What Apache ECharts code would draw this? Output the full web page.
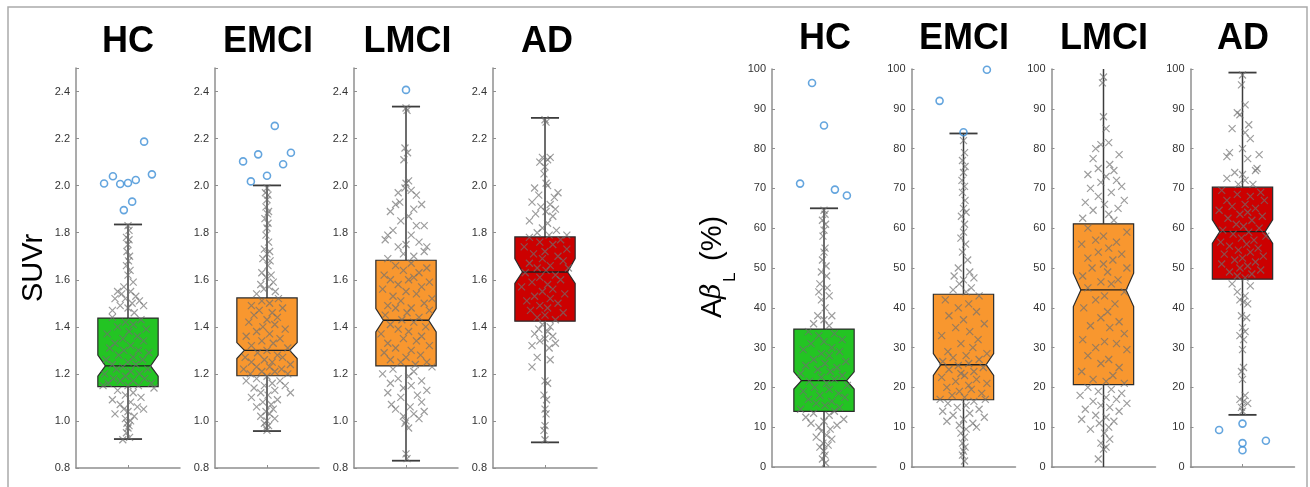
<!DOCTYPE html>
<html>
<head>
<meta charset="utf-8">
<script src="https://cdn.jsdelivr.net/npm/echarts@6/dist/echarts.min.js"></script>
<style>
  html, body { margin: 0; background: #fff; }
  #chart { width: 1310px; height: 487px; }
</style>
</head>
<body>
<div id="chart"></div>
<script>
const FONT = '"Liberation Sans", Arial, Helvetica, sans-serif';
const groups = ['HC', 'EMCI', 'LMCI', 'AD'];
const boxColors = ['#23c423', '#f8972f', '#f8972f', '#cc0000'];

// box stats: [lower whisker, Q1, notch low, median, notch high, Q3, upper whisker]
const suvrStats = [
  [0.923, 1.146, 1.190, 1.234, 1.280, 1.437, 1.835],
  [0.957, 1.192, 1.265, 1.300, 1.333, 1.523, 2.001],
  [0.831, 1.234, 1.378, 1.428, 1.478, 1.683, 2.336],
  [0.909, 1.424, 1.584, 1.633, 1.690, 1.782, 2.288]
];
const ablStats = [
  [-1, 13.96, 19.6, 21.7, 23.9, 34.65, 65.0],
  [-1, 16.9, 23.0, 25.7, 28.5, 43.4, 83.8],
  [-1, 20.7, 40.3, 44.5, 48.7, 61.1, 101],
  [13.1, 47.2, 56.2, 59.15, 62.1, 70.3, 99.1]
];

// outliers: [jitter, value]
const suvrOutliers = [
  [[-0.46, 2.009], [-0.29, 2.04], [-0.15, 2.007], [0, 2.011], [0.15, 2.024], [0.46, 2.048], [0.31, 2.187], [-0.08, 1.896], [0.08, 1.932]],
  [[-0.46, 2.103], [-0.31, 2.018], [-0.17, 2.133], [0, 2.042], [0.15, 2.254], [0.31, 2.091], [0.46, 2.14]],
  [[0, 2.407]],
  []
];
const ablOutliers = [
  [[-0.23, 96.5], [0, 85.8], [-0.46, 71.2], [0.21, 69.7], [0.44, 68.2]],
  [[-0.46, 92], [0, 84.1], [0.45, 99.8]],
  [],
  [[-0.45, 9.3], [0, 10.9], [0, 6.0], [0, 4.2], [0.45, 6.6]]
];

// individual subjects: [jitter, value]
const hcSuvr = [[0,1.83],[0.02,1.81],[-0.03,1.78],[0.02,1.77],[0,1.75],[-0.02,1.72],[0.03,1.70],[0.01,1.68],[-0.03,1.66],[0.04,1.64],[0,1.62],[0.1,1.59],[-0.08,1.57],
  [-0.2,1.55],[-0.12,1.54],[0.05,1.55],[0.15,1.53],[-0.25,1.52],[-0.05,1.52],[0.22,1.51],[0.08,1.50],[-0.15,1.49],[0.3,1.49],[0,1.48],[-0.3,1.47],[0.12,1.46],
  [-0.3,1.44],[0.25,1.43],[-0.05,1.42],[0.1,1.41],[-0.2,1.40],[0.35,1.39],[0.02,1.38],[-0.4,1.37],[0.18,1.36],[-0.1,1.35],[0.3,1.34],[-0.25,1.33],[0.05,1.32],[-0.35,1.31],[0.2,1.30],[-0.08,1.30],[0.4,1.29],[-0.18,1.28],[0.1,1.27],[-0.42,1.26],[0.28,1.26],[0,1.25],[-0.3,1.24],[0.15,1.24],[-0.1,1.23],[0.38,1.22],[-0.22,1.22],[0.05,1.21],[-0.45,1.20],[0.22,1.20],[-0.05,1.19],[0.32,1.18],[-0.28,1.18],[0.1,1.17],[-0.15,1.17],[0.45,1.16],[-0.38,1.16],[0,1.15],[0.2,1.15],[-0.48,1.15],[0.5,1.14],
  [-0.2,1.13],[0.1,1.12],[-0.05,1.11],[0.25,1.10],[-0.3,1.09],[0.05,1.08],[-0.15,1.07],[0.18,1.06],[-0.08,1.05],[0.3,1.05],[0,1.04],[-0.25,1.03],[0.12,1.02],[-0.05,1.01],[0.05,1.00],[-0.02,0.99],[0.02,0.98],[0,0.97],[-0.03,0.95],[0.03,0.93],[-0.1,0.92]];
const emciSuvr = [[0,1.99],[-0.03,1.97],[0.02,1.96],[0,1.94],[-0.02,1.91],[0.03,1.89],[0.01,1.88],[-0.04,1.86],[0.02,1.84],[0,1.82],[-0.02,1.79],[0.03,1.76],[-0.05,1.73],[0.05,1.72],[0,1.71],[-0.08,1.69],[0.06,1.68],[0.02,1.66],[-0.1,1.63],[0.08,1.62],[-0.02,1.61],[0.12,1.59],[-0.12,1.58],[0.04,1.57],[-0.06,1.56],[0.16,1.55],[-0.2,1.54],
  [0.22,1.52],[-0.1,1.51],[0.05,1.50],[-0.3,1.49],[0.3,1.48],[-0.15,1.47],[0.1,1.46],[-0.25,1.45],[0.2,1.44],[0,1.43],[-0.35,1.42],[0.15,1.41],[-0.08,1.40],[0.35,1.39],[-0.2,1.38],[0.05,1.37],[-0.4,1.36],[0.25,1.35],[-0.1,1.34],[0.12,1.33],[-0.3,1.32],[0.4,1.31],[0,1.30],[-0.18,1.29],[0.2,1.28],[-0.42,1.27],[0.3,1.27],[-0.05,1.26],[0.1,1.25],[-0.3,1.25],[0.45,1.24],[-0.2,1.23],[0.05,1.23],[-0.45,1.22],[0.28,1.22],[-0.1,1.21],[0.15,1.21],[0.4,1.20],[-0.32,1.20],[0,1.19],
  [-0.2,1.18],[0.25,1.17],[-0.4,1.17],[0.1,1.16],[-0.05,1.15],[0.35,1.15],[-0.25,1.14],[0.15,1.13],[-0.12,1.12],[0.45,1.12],[0.02,1.11],[-0.3,1.10],[0.2,1.09],[-0.08,1.08],[0.08,1.07],[-0.2,1.06],[0.12,1.05],[-0.02,1.04],[0.05,1.03],[-0.12,1.02],[0.15,1.01],[0,1.00],[-0.05,0.99],[0.03,0.98],[-0.02,0.97],[0,0.96]];
const lmciSuvr = [[0,2.33],[0.02,2.32],[-0.02,2.16],[0.03,2.14],[-0.04,2.11],[0.05,2.02],[0,2.01],[-0.02,1.99],[0.1,1.98],[-0.15,1.97],[0.2,1.96],[-0.12,1.93],[-0.2,1.92],[0.3,1.92],[0.15,1.90],[-0.3,1.89],[0.05,1.87],[-0.1,1.85],[0.35,1.83],[0.2,1.83],[-0.25,1.81],[-0.35,1.79],[0.1,1.79],[-0.4,1.77],[0.25,1.76],[0,1.75],[-0.15,1.74],[0.4,1.74],[0.35,1.72],[-0.05,1.71],[0.15,1.70],[-0.35,1.69],
  [0.1,1.67],[-0.2,1.66],[0.4,1.65],[-0.05,1.64],[0.25,1.63],[-0.42,1.62],[0.15,1.61],[-0.3,1.60],[0.05,1.60],[0.45,1.59],[-0.15,1.58],[0.3,1.57],[-0.45,1.56],[0,1.55],[0.2,1.54],[-0.25,1.53],[0.5,1.52],[-0.1,1.51],[0.35,1.50],[-0.35,1.49],[0.1,1.48],[-0.2,1.48],[0.45,1.47],[0.02,1.46],[-0.4,1.45],[0.25,1.44],[-0.08,1.43],[0.15,1.42],[-0.3,1.41],[0.38,1.40],[-0.15,1.39],[0.05,1.38],[-0.48,1.37],[0.3,1.36],[-0.05,1.35],[0.2,1.34],[-0.35,1.33],[0.45,1.32],[-0.2,1.31],[0.1,1.30],[-0.42,1.29],[0.28,1.28],[0,1.27],[-0.3,1.26],[0.4,1.25],[-0.1,1.25],[0.18,1.24],[0.5,1.23],
  [-0.25,1.22],[0.15,1.21],[-0.45,1.20],[0.05,1.19],[-0.15,1.18],[0.3,1.17],[-0.3,1.16],[0.1,1.15],[-0.05,1.14],[0.4,1.13],[-0.35,1.12],[0.22,1.11],[-0.1,1.10],[0.3,1.08],[-0.28,1.07],[0.08,1.06],[-0.2,1.05],[0.35,1.04],[0.15,1.03],[-0.05,1.02],[0.25,1.01],[0,1.00],[-0.02,0.99],[0.05,0.97],[0,0.86],[0.02,0.84]];
const adSuvr = [[0,2.28],[0.02,2.27],[-0.05,2.12],[0.05,2.11],[-0.1,2.10],[0.1,2.12],[0,2.08],[-0.02,2.05],[0.02,2.01],[0.05,2.00],[-0.2,1.99],[0.25,1.97],[-0.12,1.96],[0.18,1.95],[-0.25,1.93],[0.1,1.92],[-0.08,1.91],[0.2,1.90],[0.02,1.89],[-0.18,1.88],[0.15,1.87],[-0.3,1.85],[0.05,1.84],[-0.05,1.82],[0.22,1.81],[-0.15,1.80],[0.08,1.79],[0.42,1.79],
  [-0.3,1.78],[0.3,1.77],[-0.1,1.76],[0.15,1.75],[-0.4,1.74],[0.42,1.73],[0,1.72],[-0.22,1.71],[0.25,1.70],[-0.05,1.69],[0.35,1.68],[-0.3,1.67],[0.1,1.66],[-0.15,1.65],[0.45,1.65],[0.02,1.64],[-0.38,1.63],[0.2,1.62],[-0.1,1.61],[0.3,1.60],[-0.25,1.59],[0.05,1.58],[-0.45,1.57],[0.15,1.56],[-0.05,1.55],[0.38,1.54],[-0.2,1.53],[0.1,1.52],[-0.35,1.51],[0.25,1.50],[-0.1,1.49],[0.05,1.48],[-0.28,1.47],[0.35,1.46],[0,1.45],[-0.15,1.44],[0.2,1.43],
  [-0.05,1.41],[0.1,1.40],[-0.12,1.39],[0.05,1.38],[-0.2,1.37],[0.15,1.36],[0,1.35],[-0.1,1.34],[0.2,1.33],[-0.25,1.32],[0.08,1.31],[-0.15,1.27],[0.1,1.26],[-0.25,1.23],[0,1.17],[0.05,1.16],[-0.02,1.11],[0.03,1.09],[0,1.05],[0.02,1.03],[0,0.98],[-0.02,0.96],[0,0.92]];

const hcAbl = [[0,64.5],[0.02,63.5],[-0.03,62],[0.03,61],[0,59.5],[-0.02,58],[0.02,55],[0,54],[-0.03,52],[0.04,50.5],[-0.05,49],[0.05,48],[-0.08,46],[0.06,45],[-0.1,44],[0.1,43],[-0.05,42],[0.02,40],[-0.12,38],[0.15,38],[0,37],[-0.2,36],[0.1,35.5],
  [-0.3,34],[0.2,33.5],[-0.1,33],[0.35,32],[0,31.5],[-0.25,31],[0.15,30],[-0.4,29.5],[0.3,29],[-0.05,28.5],[0.1,28],[-0.2,27],[0.42,26.5],[0.02,26],[-0.35,25.5],[0.25,25],[-0.12,24.5],[0.12,24],[-0.45,23.5],[0.35,23],[-0.05,22.5],[0.2,22],[-0.28,21.5],[0.05,21],[0.45,20.5],[-0.18,20],[0.1,19.5],[-0.4,19],[0.28,18.5],[-0.08,18],[0.4,17.5],[-0.3,17],[0.15,16.5],[-0.15,16],[0.02,15.5],[0.3,15],[-0.45,14.5],[0.2,14],
  [-0.2,13.5],[0.1,13],[-0.35,12.5],[0.38,12],[0,11.5],[-0.25,11],[0.25,10.5],[-0.1,10],[0.12,9.5],[-0.05,9],[0.05,8],[-0.15,7.5],[0.15,7],[-0.02,6],[0.08,5.5],[-0.08,5],[0,4],[0.02,3],[-0.03,2],[0.03,1]];
const emciAbl = [[0,82],[0.02,79],[-0.02,77],[0.03,75.5],[0,74],[-0.03,72],[0.02,70.5],[-0.02,69],[0.03,67],[0,65],[0.05,64],[-0.04,63],[0.02,61],[0,59],[-0.05,57.5],[0.04,56],[-0.02,54],[0.08,52],[-0.1,50],[0.12,49],[-0.18,48],[0.2,47.5],[0,47],[-0.08,46],[0.15,45],[-0.2,44.5],[0.05,44],
  [0.3,43],[-0.35,42],[0.1,41],[-0.1,40],[0.25,39],[-0.28,38],[0,37],[0.4,36],[-0.15,35],[0.12,34],[-0.42,33],[0.28,32],[-0.05,31],[0.18,30],[-0.3,29],[0.45,28.5],[0.05,28],[-0.2,27.5],[0.3,27],[-0.4,26.5],[0.1,26],[-0.1,25.5],[0.38,25],[-0.28,24.5],[0.2,24],[-0.05,23.5],[0.02,23],[-0.42,22.5],[0.25,22],[-0.15,21.5],[0.45,21],[0.1,20.5],[-0.32,20],[0.15,19.5],[-0.08,19],[0.35,18.5],[-0.22,18],[0.02,17.5],[0.42,17],[-0.45,17],
  [0.2,16.5],[-0.3,16],[0.05,15.5],[-0.12,15],[0.3,14.5],[-0.4,14],[0.12,13.5],[-0.2,13],[0.4,12.5],[0,12],[-0.32,11.5],[0.18,11],[-0.08,10.5],[0.25,10],[0.05,9.5],[-0.05,8.5],[0.02,7.5],[-0.02,6],[0.03,5],[0,4],[-0.02,3],[0.02,1.5]];
const lmciAbl = [[0,98],[-0.02,96.5],[0,88],[0.05,85],[0.1,81.5],[-0.05,81],[-0.15,80],[0.3,78.5],[-0.2,77.5],[0.12,76],[-0.1,75],[0.2,74.5],[-0.3,73.5],[0.05,73],[0.25,72],[-0.05,71.5],[0.35,70.5],[-0.25,70],[0.15,69],[-0.1,68],[0.4,67],[-0.35,66.5],[0.02,66],[0.28,65],[-0.2,64.5],[0.1,63.5],[-0.4,62.5],[0.2,62],
  [-0.3,60],[0.45,59],[0,58],[-0.15,57],[0.25,56.5],[-0.42,56],[0.1,55],[-0.1,54],[0.35,53.5],[-0.3,52.5],[0.18,52],[0,51],[-0.22,50],[0.45,50],[0.08,49],[-0.4,48],[0.28,47],[-0.05,46.5],[0.15,46],[-0.3,45],[0.4,44],[0.02,43],[-0.15,42],[0.22,41],[-0.38,40],[0.08,39],[-0.05,37.5],[0.3,36.5],[-0.25,35.5],[0.12,35],[0.4,33.5],[-0.4,32],[0.02,31.5],[0.25,31],[-0.15,30],[0.45,29.5],[-0.3,28],[0.1,27],[-0.05,26],[0.3,25],[-0.42,24],[0.18,23],[-0.2,22],[0.05,21.5],[0.4,21],
  [-0.3,20],[0.15,19.5],[-0.1,19],[0.35,18.5],[-0.45,18],[0.05,17.5],[0.25,17],[-0.2,16.5],[0.45,16],[-0.05,15.5],[0.12,15],[-0.35,14.5],[0.3,14],[-0.15,13],[0.05,12.5],[-0.42,12],[0.2,11.5],[-0.08,11],[0.1,10],[-0.25,9.5],[0.02,8.5],[0.12,7],[-0.05,6],[0.05,5],[0,4.5],[-0.1,2]];
const adAbl = [[0,98.5],[-0.02,96],[0.05,91],[-0.1,89],[-0.05,88.5],[0.12,86],[-0.2,85],[0.05,84],[0.15,82.5],[0,80],[-0.25,79],[0.32,78.5],[-0.3,78],[0.1,77.5],[0.28,75],[-0.15,74],[0.25,74.5],[0,73.5],[-0.3,72.5],[0.05,72],[-0.08,71],[0.2,71],
  [-0.4,69.5],[0.35,69],[-0.1,68.5],[0.15,68],[-0.3,67],[0.42,67],[0.05,66],[-0.2,65.5],[0.25,65],[-0.45,64.5],[0.1,64],[-0.05,63.5],[0.38,63],[-0.28,62.5],[0.18,62],[-0.12,61],[0.02,60.5],[0.32,60],[-0.38,59.5],[0.12,59],[-0.18,58.5],[0.45,58],[-0.02,57.5],[0.22,57],[-0.42,56.5],[0.08,56],[-0.25,55.5],[0.3,55],[-0.08,54.5],[0.15,54],[-0.35,53.5],[0.4,53],[0,52.5],[-0.15,52],[0.25,51.5],[-0.4,51],[0.1,50.5],[-0.05,50],[0.35,49.5],[-0.25,49],[0.18,48.5],[-0.1,48],[0.05,47.5],
  [-0.2,46],[0.15,45.5],[-0.1,44],[0.05,43],[-0.05,42],[0.02,41.5],[0.1,41],[-0.02,38],[0.08,37.5],[0,35],[0.05,34],[-0.05,33],[0.02,32],[0,29.5],[0.02,25],[-0.02,24],[0,22],[0.05,18],[-0.05,17],[0.02,16.5],[0.1,16],[-0.02,15],[0,14]];

const suvrPoints = [hcSuvr, emciSuvr, lmciSuvr, adSuvr];
const ablPoints = [hcAbl, emciAbl, lmciAbl, adAbl];

const BOX_HALF = 0.58;
const NOTCH_HALF = 0.435;
const CAP_HALF = 0.27;

const panels = [
  { lefts: [76, 215, 354, 493], top: 68, height: 400, min: 0.8, max: 2.5, step: 0.2, digits: 1,
    stats: suvrStats, points: suvrPoints, outliers: suvrOutliers, titleY: 42, titleX: [128, 268, 407.5, 547] },
  { lefts: [772, 911.5, 1051.5, 1190.5], top: 69, height: 398, min: 0, max: 100, step: 10, digits: 0,
    stats: ablStats, points: ablPoints, outliers: ablOutliers, titleY: 39, titleX: [825, 964, 1104, 1243] }
];

function boxRenderer(color) {
  return function (params, api) {
    const wLo = api.value(0), q1 = api.value(1), nLo = api.value(2), med = api.value(3),
      nHi = api.value(4), q3 = api.value(5), wHi = api.value(6);
    const c = (x, y) => api.coord([x, y]);
    const seg = (a, b, w, col) => ({
      type: 'line',
      shape: { x1: a[0], y1: a[1], x2: b[0], y2: b[1] },
      style: { stroke: col || '#3c3c3c', lineWidth: w || 1.5 }
    });
    const outline = [
      c(-BOX_HALF, q1), c(-BOX_HALF, nLo), c(-NOTCH_HALF, med), c(-BOX_HALF, nHi), c(-BOX_HALF, q3),
      c(BOX_HALF, q3), c(BOX_HALF, nHi), c(NOTCH_HALF, med), c(BOX_HALF, nLo), c(BOX_HALF, q1)
    ];
    return {
      type: 'group',
      children: [
        seg(c(0, q3), c(0, wHi)),
        seg(c(0, q1), c(0, wLo)),
        seg(c(-CAP_HALF, wHi), c(CAP_HALF, wHi), 1.8),
        seg(c(-CAP_HALF, wLo), c(CAP_HALF, wLo), 1.8),
        { type: 'polygon', shape: { points: outline }, style: { fill: color, stroke: '#2b2b2b', lineWidth: 1.2 } },
        seg(c(-NOTCH_HALF, med), c(NOTCH_HALF, med), 1.4, '#1e1e1e')
      ]
    };
  };
}

const grid = [], xAxis = [], yAxis = [], series = [], graphic = [];

panels.forEach((panel, p) => {
  groups.forEach((name, g) => {
    const idx = p * 4 + g;
    grid.push({ left: panel.lefts[g], top: panel.top, width: 104, height: panel.height });
    xAxis.push({
      type: 'value', gridIndex: idx, min: -1, max: 1,
      axisLine: { show: true, onZero: false, lineStyle: { color: '#8f8f8f', width: 1.5 } },
      axisTick: { show: true, inside: true, length: 3, customValues: [0], lineStyle: { color: '#8f8f8f' } },
      axisLabel: { show: false },
      splitLine: { show: false }
    });
    yAxis.push({
      type: 'value', gridIndex: idx, min: panel.min, max: panel.max, interval: panel.step,
      axisLine: { show: true, onZero: false, lineStyle: { color: '#8f8f8f', width: 1.5 } },
      axisTick: { show: true, inside: true, length: 3, lineStyle: { color: '#8f8f8f' } },
      axisLabel: {
        color: '#333', fontSize: 11, fontFamily: FONT, margin: 6,
        formatter: (v) => (v > panel.max - panel.step / 2 + 1e-9 && panel.max % panel.step !== 0) ? '' : v.toFixed(panel.digits)
      },
      splitLine: { show: false }
    });
    series.push({
      type: 'custom', xAxisIndex: idx, yAxisIndex: idx, clip: true, z: 2,
      renderItem: boxRenderer(boxColors[g]),
      data: [panel.stats[g]]
    });
    series.push({
      type: 'scatter', xAxisIndex: idx, yAxisIndex: idx, z: 3,
      symbol: 'path://M0,0L10,10M10,0L0,10', symbolSize: 7,
      itemStyle: { color: 'transparent', borderColor: 'rgba(112,112,112,0.85)', borderWidth: 1.2 },
      emphasis: { disabled: true },
      data: panel.points[g]
    });
    series.push({
      type: 'scatter', xAxisIndex: idx, yAxisIndex: idx, z: 4,
      symbol: 'circle', symbolSize: 7,
      itemStyle: { color: 'transparent', borderColor: '#3d8fd6', borderWidth: 1.6 },
      emphasis: { disabled: true },
      data: panel.outliers[g]
    });
    graphic.push({
      type: 'text', x: panel.titleX[g], y: panel.titleY,
      style: { text: name, font: 'bold 36px ' + FONT, fill: '#000', align: 'center', verticalAlign: 'middle' }
    });
  });
});

// outer frame
graphic.push({
  type: 'rect', shape: { x: 8, y: 7, width: 1299, height: 500 },
  style: { fill: 'none', stroke: '#ababab', lineWidth: 1.5 }, z: -1
});
// y axis titles
graphic.push({
  type: 'text', x: 34, y: 268, rotation: Math.PI / 2,
  style: { text: 'SUVr', font: '29px ' + FONT, fill: '#000', align: 'center', verticalAlign: 'middle' }
});
graphic.push({
  type: 'group', x: 721.5, y: 267, rotation: Math.PI / 2,
  children: [
    { type: 'text', x: -51, y: -9, style: { text: 'A', font: '29px ' + FONT, fill: '#000', align: 'left', verticalAlign: 'middle' } },
    { type: 'text', x: -32, y: -9, style: { text: 'β', font: 'italic 27px "DejaVu Serif", serif', fill: '#000', align: 'left', verticalAlign: 'middle' } },
    { type: 'text', x: -15, y: 9, style: { text: 'L', font: '17px ' + FONT, fill: '#000', align: 'left', verticalAlign: 'middle' } },
    { type: 'text', x: -2, y: -9, style: { text: ' (%)', font: '29px ' + FONT, fill: '#000', align: 'left', verticalAlign: 'middle' } }
  ]
});

const chart = echarts.init(document.getElementById('chart'));
chart.setOption({
  animation: false,
  backgroundColor: '#fff',
  grid, xAxis, yAxis, series, graphic
});
</script>
</body>
</html>
